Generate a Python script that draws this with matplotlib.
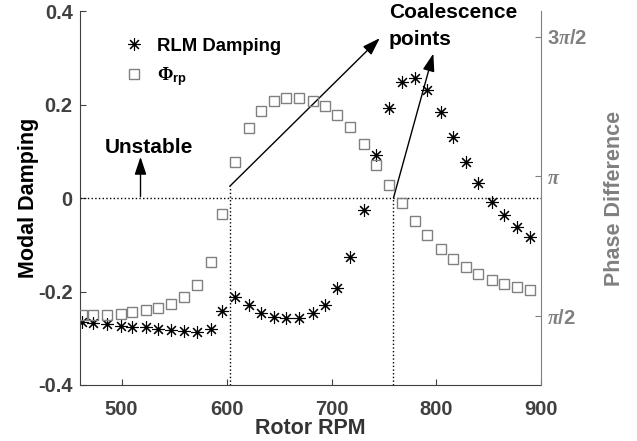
import numpy as np
import matplotlib
matplotlib.use("Agg")
import matplotlib.pyplot as plt

plt.rcParams['font.family'] = ['Liberation Sans', 'DejaVu Sans']
plt.rcParams['font.weight'] = 'bold'
plt.rcParams['axes.labelweight'] = 'bold'
plt.rcParams['mathtext.fontset'] = 'custom'
plt.rcParams['mathtext.rm'] = 'Liberation Serif'
plt.rcParams['mathtext.it'] = 'Liberation Serif:italic'
plt.rcParams['mathtext.bf'] = 'Liberation Sans:bold'

# data
rpm = [462, 473, 486, 499, 510, 523, 535, 547, 559, 572, 585, 596,
       608, 621, 633, 645, 657, 669, 682, 694, 705, 718, 731, 742,
       755, 767, 780, 791, 804, 816, 828, 840, 853, 864, 877, 889]
damping = [-0.265, -0.268, -0.270, -0.273, -0.275, -0.277, -0.280, -0.282,
           -0.284, -0.287, -0.280, -0.242, -0.212, -0.228, -0.245, -0.254,
           -0.256, -0.256, -0.247, -0.228, -0.193, -0.127, -0.026, 0.093,
           0.192, 0.249, 0.257, 0.232, 0.185, 0.131, 0.076, 0.033,
           -0.008, -0.036, -0.063, -0.084]
phase = [1.582, 1.590, 1.590, 1.601, 1.616, 1.638, 1.668, 1.712, 1.788,
         1.923, 2.180, 2.716, 3.310, 3.688, 3.881, 3.987, 4.020, 4.020,
         3.995, 3.938, 3.837, 3.702, 3.508, 3.272, 3.049, 2.842, 2.641,
         2.483, 2.326, 2.218, 2.121, 2.050, 1.982, 1.934, 1.896, 1.863]

left_ticks = [-0.4, -0.2, 0, 0.2, 0.4]
left_labels = ['-0.4', '-0.2', '0', '0.2', '0.4']
right_ticks = [np.pi / 2, np.pi, 3 * np.pi / 2]
right_labels = [r'$\pi\mathbf{/2}$', r'$\pi$', r'$\mathbf{3}\pi\mathbf{/2}$']

dark = '#404040'
grey = '#808080'

fig = plt.figure(figsize=(6.37, 4.41), dpi=100)
ax = fig.add_axes([0.125, 0.127, 0.725, 0.848])
ax2 = ax.twinx()

ast = (8, 2, 0)
h1, = ax.plot(rpm, damping, linestyle='none', marker=ast, markersize=9,
              markeredgewidth=0.8, color='black', label='RLM Damping')
h2, = ax2.plot(rpm, phase, linestyle='none', marker='s', markersize=6.5,
               markerfacecolor='none', markeredgecolor=grey,
               markeredgewidth=1.0, label=r'$\Phi_{\mathbf{rp}}$')

ax.set_xlim(460, 900)
ax.set_ylim(-0.4, 0.4)
ax2.set_ylim(0.8, 5.0)

ax.set_xticks([500, 600, 700, 800, 900])
ax.set_yticks(left_ticks)
ax.set_yticklabels(left_labels)
ax2.set_yticks(right_ticks)
ax2.set_yticklabels(right_labels)

ax.tick_params(axis='both', direction='in', length=4, colors=dark,
               labelsize=14.5)
ax.tick_params(axis='x', pad=11)
ax.tick_params(axis='y', pad=5)
ax2.tick_params(axis='y', direction='in', length=4, colors=grey,
                labelsize=14.5, pad=4)

for a in (ax, ax2):
    a.spines['top'].set_visible(False)
ax.spines['left'].set_color(dark)
ax.spines['bottom'].set_color(dark)
ax.spines['right'].set_visible(False)
ax2.spines['left'].set_visible(False)
ax2.spines['bottom'].set_visible(False)
ax2.spines['right'].set_color(grey)

ax.set_xlabel('Rotor RPM', fontsize=15.5, color='#333333', labelpad=-1)
ax.set_ylabel('Modal Damping', fontsize=15.5, color='black', labelpad=-1)
ax2.set_ylabel('Phase Difference', fontsize=15.5, color=grey, labelpad=12)

# reference lines
ax.axhline(0, color='black', linestyle=':', linewidth=1)
ax.plot([603, 603], [-0.4, 0.025], color='black', linestyle=':', linewidth=1)
ax.plot([759, 759], [-0.4, 0.0], color='black', linestyle=':', linewidth=1)

arrow = dict(arrowstyle='-|>,head_length=0.6,head_width=0.2', color='black',
             lw=1, mutation_scale=18, shrinkA=0, shrinkB=0)
ax.annotate('', xy=(746, 0.342), xytext=(603, 0.025), arrowprops=arrow)
ax.annotate('', xy=(797, 0.309), xytext=(759, 0.0), arrowprops=arrow)
ax.annotate('', xy=(518, 0.088), xytext=(518, 0.003), arrowprops=arrow)

ax.text(526, 0.097, 'Unstable', ha='center', va='baseline', fontsize=15)
ax.text(754.5, 0.385, 'Coalescence', ha='left', va='baseline', fontsize=15)
ax.text(754.5, 0.327, 'points', ha='left', va='baseline', fontsize=15)

ax2.legend(handles=[h1, h2], loc='upper left', bbox_to_anchor=(0.097, 0.928),
           frameon=False, fontsize=13.3, handlelength=1.0,
           handletextpad=0.75, labelspacing=0.55, borderpad=0,
           borderaxespad=0)

fig.savefig('out.png', dpi=100)
